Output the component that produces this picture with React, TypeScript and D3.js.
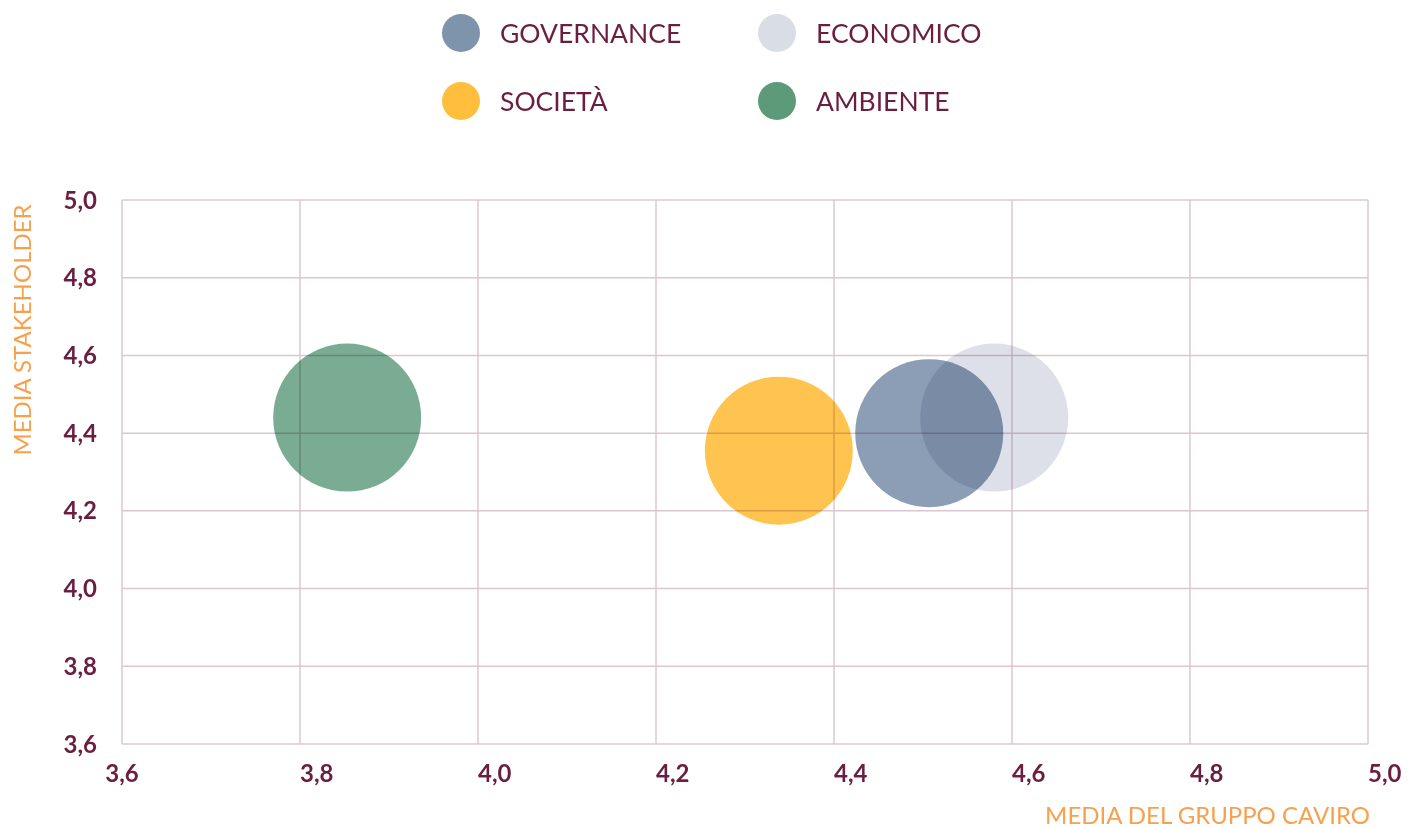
import * as d3 from "d3";

// bubble series (x = media del gruppo Caviro, y = media stakeholder)
const categories = ["GOVERNANCE", "ECONOMICO", "SOCIETÀ", "AMBIENTE"];
const colors = ["#7e94ad", "#d9dde6", "#ffbe3c", "#5c9a7a"];
const xValues = [4.507, 4.58, 4.338, 3.853];
const yValues = [4.4, 4.44, 4.355, 4.44];
const sizeValues = [1, 1, 1, 1];

const xTicks = [3.6, 3.8, 4.0, 4.2, 4.4, 4.6, 4.8, 5.0];
const yTicks = [3.6, 3.8, 4.0, 4.2, 4.4, 4.6, 4.8, 5.0];

const W = 1409;
const H = 828;
const margin = { top: 200, right: 41, bottom: 84, left: 122 };

const maroon = "#6b1f40";
const orange = "#f7a04e";
const gridColor = "#dcc7d0";
const fmt = (v: number) => v.toFixed(1).replace(".", ",");

export default function App() {
  const x = d3.scaleLinear().domain([3.6, 5.0]).range([margin.left, W - margin.right]);
  const y = d3.scaleLinear().domain([3.6, 5.0]).range([H - margin.bottom, margin.top]);
  const r = d3.scaleSqrt().domain([0, 1]).range([0, 74]);

  // draw order: economico first so governance sits over it
  const order = [1, 0, 2, 3];

  return (
    <svg
      width={W}
      height={H}
      style={{ position: "absolute", left: 0, top: 0, fontFamily: "Lato, sans-serif" }}
    >
      {/* legend */}
      {categories.map((c, i) => {
        const lx = i % 2 === 0 ? 461 : 777;
        const ly = i < 2 ? 33 : 101;
        return (
          <g key={c}>
            <circle cx={lx} cy={ly} r={19} fill={colors[i]} />
            <text x={lx + 39} y={ly} dy="0.36em" fontSize={26.5} fill={maroon}>
              {c}
            </text>
          </g>
        );
      })}

      {/* grid */}
      {xTicks.map((t) => (
        <line key={"gx" + t} x1={x(t)} x2={x(t)} y1={y(5.0)} y2={y(3.6)} stroke={gridColor} strokeWidth={1.5} />
      ))}
      {yTicks.map((t) => (
        <line key={"gy" + t} x1={x(3.6)} x2={x(5.0)} y1={y(t)} y2={y(t)} stroke={gridColor} strokeWidth={1.5} />
      ))}

      {/* bubbles */}
      {order.map((i) => (
        <circle
          key={categories[i]}
          cx={x(xValues[i])}
          cy={y(yValues[i])}
          r={r(sizeValues[i])}
          fill={colors[i]}
          fillOpacity={i === 3 ? 0.82 : 0.9}
          style={{ mixBlendMode: "multiply" }}
        />
      ))}

      {/* tick labels */}
      {xTicks.map((t, i) => (
        <text
          key={"tx" + t}
          x={x(t)}
          y={y(3.6) + 38}
          textAnchor={i === 0 ? "middle" : "start"}
          fontSize={24}
          fontWeight={700}
          fill={maroon}
        >
          {fmt(t)}
        </text>
      ))}
      {yTicks.map((t) => (
        <text key={"ty" + t} x={97} y={y(t)} dy="0.36em" textAnchor="end" fontSize={24} fontWeight={700} fill={maroon}>
          {fmt(t)}
        </text>
      ))}

      {/* axis titles */}
      <text x={x(5.0) + 2} y={H - 4} textAnchor="end" fontSize={24} fill={orange}>
        MEDIA DEL GRUPPO CAVIRO
      </text>
      <text
        transform={`translate(31, 330) rotate(-90)`}
        textAnchor="middle"
        fontSize={24}
        fill={orange}
      >
        MEDIA STAKEHOLDER
      </text>
    </svg>
  );
}
